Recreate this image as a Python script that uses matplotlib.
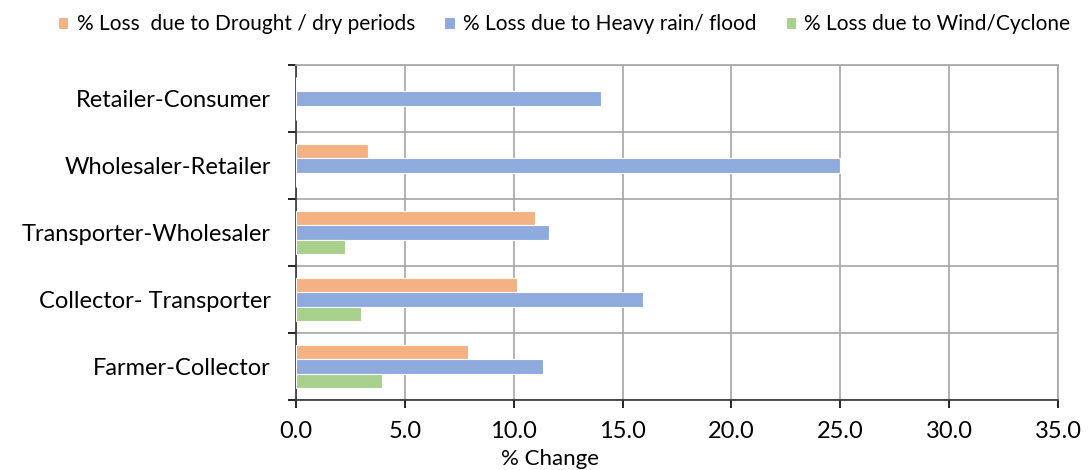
import matplotlib
matplotlib.use("Agg")
import matplotlib.pyplot as plt
import numpy as np

plt.rcParams['font.family'] = ['Lato', 'DejaVu Sans']

# categories, bottom to top
stages = ["Farmer-Collector", "Collector- Transporter", "Transporter-Wholesaler",
          "Wholesaler-Retailer", "Retailer-Consumer"]
drought = [7.9, 10.15, 11.0, 3.33, 0.0]
flood = [11.35, 15.95, 11.6, 25.0, 14.0]
wind = [3.95, 3.0, 2.25, 0.0, 0.0]

labels = ["% Loss  due to Drought / dry periods",
          "% Loss due to Heavy rain/ flood",
          "% Loss due to Wind/Cyclone"]
colors = ["#F4B183", "#8FAADC", "#A9D18E"]

fig = plt.figure(figsize=(10.89, 4.70), dpi=100)
ax = fig.add_axes([0.2718, 0.149, 0.6997, 0.7127])

y = np.arange(len(stages))
h = 0.215
for i, (vals, lab, c) in enumerate(zip([drought, flood, wind], labels, colors)):
    ax.barh(y + (1 - i) * h, vals, height=h, color=c, edgecolor="white",
            linewidth=0.8, label=lab, zorder=3)

ax.set_xlim(0, 35)
ax.set_ylim(-0.5, len(stages) - 0.5)
ax.set_xticks(np.arange(0, 35.1, 5))
ax.set_xticklabels([f"{v:.1f}" for v in np.arange(0, 35.1, 5)], fontsize=17)
ax.set_yticks(y)
ax.set_yticklabels(stages, fontsize=17)
ax.set_yticks(np.arange(-0.5, len(stages), 1), minor=True)
ax.tick_params(axis='y', which='major', length=0, pad=18)
ax.tick_params(axis='y', which='minor', length=6, width=1.2, direction='out')
ax.tick_params(axis='x', which='major', length=6, width=1.2, pad=9)

ax.grid(axis='x', which='major', color="#A6A6A6", linewidth=1.2, zorder=0)
ax.grid(axis='y', which='minor', color="#A6A6A6", linewidth=1.2, zorder=0)
for s in ['top', 'right']:
    ax.spines[s].set_color("#A6A6A6")
    ax.spines[s].set_linewidth(1.2)
for s in ['left', 'bottom']:
    ax.spines[s].set_color("#333333")
    ax.spines[s].set_linewidth(1.2)

fig.legend(loc='upper center', bbox_to_anchor=(0.518, 1.01), ncol=3, frameon=False,
           fontsize=15, handlelength=0.5, handleheight=0.5, handletextpad=0.4,
           columnspacing=1.4)
fig.text(0.505, 0.002, "% Change", ha='center', va='bottom', fontsize=16)

fig.savefig("out.png", dpi=100)
